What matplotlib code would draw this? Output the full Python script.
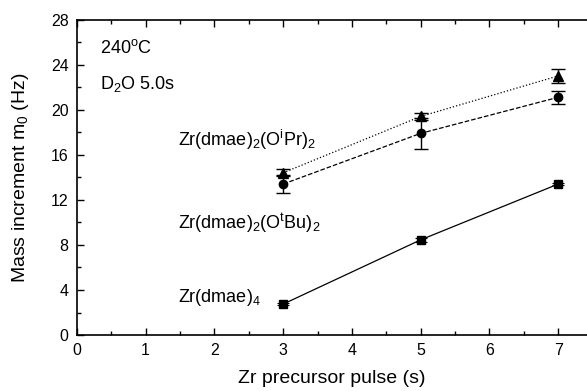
import matplotlib
matplotlib.use("Agg")
import matplotlib.pyplot as plt
from matplotlib.ticker import MultipleLocator

plt.rcParams["font.family"] = ["Liberation Sans", "DejaVu Sans"]
plt.rcParams["mathtext.fontset"] = "custom"
plt.rcParams["mathtext.rm"] = "Liberation Sans"
plt.rcParams["mathtext.it"] = "Liberation Sans"

# Zr precursor pulse (s)
pulse = [3, 5, 7]

# mass increment m0 (Hz) and error bars
ipr_y = [14.4, 19.4, 23.0]
ipr_err = [0.3, 0.3, 0.6]
tbu_y = [13.4, 17.9, 21.1]
tbu_err = [0.8, 1.4, 0.6]
dmae_y = [2.75, 8.45, 13.4]
dmae_err = [0.12, 0.15, 0.12]

fig = plt.figure(figsize=(5.87, 3.91), dpi=100)
ax = fig.add_axes([0.131, 0.143, 0.869, 0.807])

ax.errorbar(pulse, ipr_y, yerr=ipr_err, fmt="^", color="black", ms=6.5,
            ls=":", lw=0.9, capsize=5, elinewidth=1, capthick=1)
ax.errorbar(pulse, tbu_y, yerr=tbu_err, fmt="o", color="black", ms=6,
            ls="--", lw=0.9, capsize=5, elinewidth=1, capthick=1)
ax.errorbar(pulse, dmae_y, yerr=dmae_err, fmt="s", color="black", ms=5.5,
            ls="-", lw=0.9, capsize=4, elinewidth=0.8, capthick=0.8)

fs = 13
ax.text(0.33, 25.5, r"240$^{\mathrm{o}}$C", fontsize=fs, va="center")
ax.text(0.33, 22.3, r"D$_{\mathrm{2}}$O 5.0s", fontsize=fs, va="center")
ax.text(1.47, 17.3, r"Zr(dmae)$_{\mathrm{2}}$(O$^{\mathrm{i}}$Pr)$_{\mathrm{2}}$",
        fontsize=fs, va="center")
ax.text(1.47, 9.9, r"Zr(dmae)$_{\mathrm{2}}$(O$^{\mathrm{t}}$Bu)$_{\mathrm{2}}$",
        fontsize=fs, va="center")
ax.text(1.47, 3.3, r"Zr(dmae)$_{\mathrm{4}}$", fontsize=fs, va="center")

ax.set_xlim(0, 7.42)
ax.set_ylim(0, 28)
ax.xaxis.set_major_locator(MultipleLocator(1))
ax.xaxis.set_minor_locator(MultipleLocator(0.5))
ax.yaxis.set_major_locator(MultipleLocator(4))
ax.yaxis.set_minor_locator(MultipleLocator(2))
ax.tick_params(which="both", direction="in", top=True, right=False,
               labelsize=11.5, width=1)
ax.tick_params(which="major", length=5, pad=6)
ax.tick_params(which="minor", length=3)
ax.spines["right"].set_visible(False)
for s in ["left", "bottom", "top"]:
    ax.spines[s].set_linewidth(1.2)

ax.set_xlabel("Zr precursor pulse (s)", fontsize=14, labelpad=8)
ax.set_ylabel(r"Mass increment m$_{\mathrm{0}}$ (Hz)", fontsize=14, labelpad=14)

fig.savefig("out.png", dpi=100)
